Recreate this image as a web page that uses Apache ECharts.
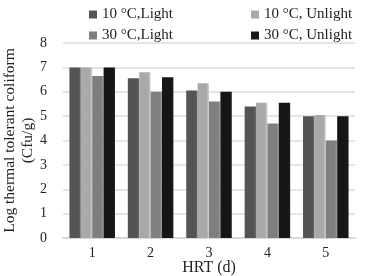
<!DOCTYPE html>
<html>
<head>
<meta charset="utf-8">
<script src="https://cdn.jsdelivr.net/npm/echarts@6/dist/echarts.min.js"></script>
<style>
  html, body { margin: 0; padding: 0; background: #fff; }
  #chart { width: 371px; height: 276px; }
</style>
</head>
<body>
<div id="chart"></div>
<script>
// HRT days
var categories = ['1', '2', '3', '4', '5'];
var seriesNames = ['10 °C,Light', '10 °C, Unlight', '30 °C,Light', '30 °C, Unlight'];
// log thermal tolerant coliform
var light10 = [7.0, 6.55, 6.05, 5.4, 5.0];
var unlight10 = [7.0, 6.8, 6.35, 5.55, 5.05];
var light30 = [6.65, 6.0, 5.6, 4.7, 4.0];
var unlight30 = [7.0, 6.6, 6.0, 5.55, 5.0];
var yTicks = [0, 1, 2, 3, 4, 5, 6, 7, 8];

var colors = ['#545454', '#a9a9a9', '#7f7f7f', '#161616'];
var allData = [light10, unlight10, light30, unlight30];

var chart = echarts.init(document.getElementById('chart'));

function shade(c) {
  // fake the 3D cylinder look a bit
  return new echarts.graphic.LinearGradient(0, 0, 1, 0, [
    { offset: 0, color: c },
    { offset: 0.8, color: c },
    { offset: 1, color: echarts.color.lift(c, -0.25) }
  ]);
}

var font = { fontFamily: 'Liberation Serif', fontSize: 15, color: '#222' };

var legendPos = [[84, 2], [246, 2], [84, 23], [246, 23]];

chart.setOption({
  animation: false,
  textStyle: { fontFamily: 'Liberation Serif' },
  legend: seriesNames.map(function (n, i) {
    return {
      data: [{ name: n, itemStyle: { color: colors[i] } }],
      left: legendPos[i][0],
      top: legendPos[i][1],
      itemWidth: 8,
      itemHeight: 8,
      itemGap: 4,
      icon: 'rect',
      textStyle: font
    };
  }),
  grid: { left: 63, right: 16, top: 43, bottom: 38, outerBoundsMode: 'none' },
  xAxis: {
    type: 'category',
    data: categories,
    name: 'HRT (d)',
    nameLocation: 'middle',
    nameGap: 22,
    nameMoveOverlap: false,
    nameTextStyle: { fontFamily: 'Liberation Serif', fontSize: 16, color: '#222' },
    axisTick: { show: false },
    axisLine: { lineStyle: { color: '#d9d9d9', width: 2 } },
    axisLabel: { fontFamily: 'Liberation Serif', fontSize: 14, color: '#222', margin: 8 }
  },
  yAxis: {
    type: 'value',
    min: yTicks[0],
    max: yTicks[yTicks.length - 1],
    interval: 1,
    name: 'Log thermal tolerant coliform\n(Cfu/g)',
    nameLocation: 'middle',
    nameGap: 26,
    nameMoveOverlap: false,
    nameTextStyle: { fontFamily: 'Liberation Serif', fontSize: 15.5, color: '#222', lineHeight: 18 },
    axisLine: { show: false },
    axisTick: { show: false },
    splitLine: { lineStyle: { color: '#dcdcdc', width: 1.5 } },
    axisLabel: { fontFamily: 'Liberation Serif', fontSize: 14, color: '#222', margin: 16 }
  },
  series: seriesNames.map(function (n, i) {
    return {
      name: n,
      type: 'bar',
      data: allData[i],
      barGap: '0%',
      barCategoryGap: '22%',
      itemStyle: { color: shade(colors[i]) }
    };
  })
});
</script>
</body>
</html>
